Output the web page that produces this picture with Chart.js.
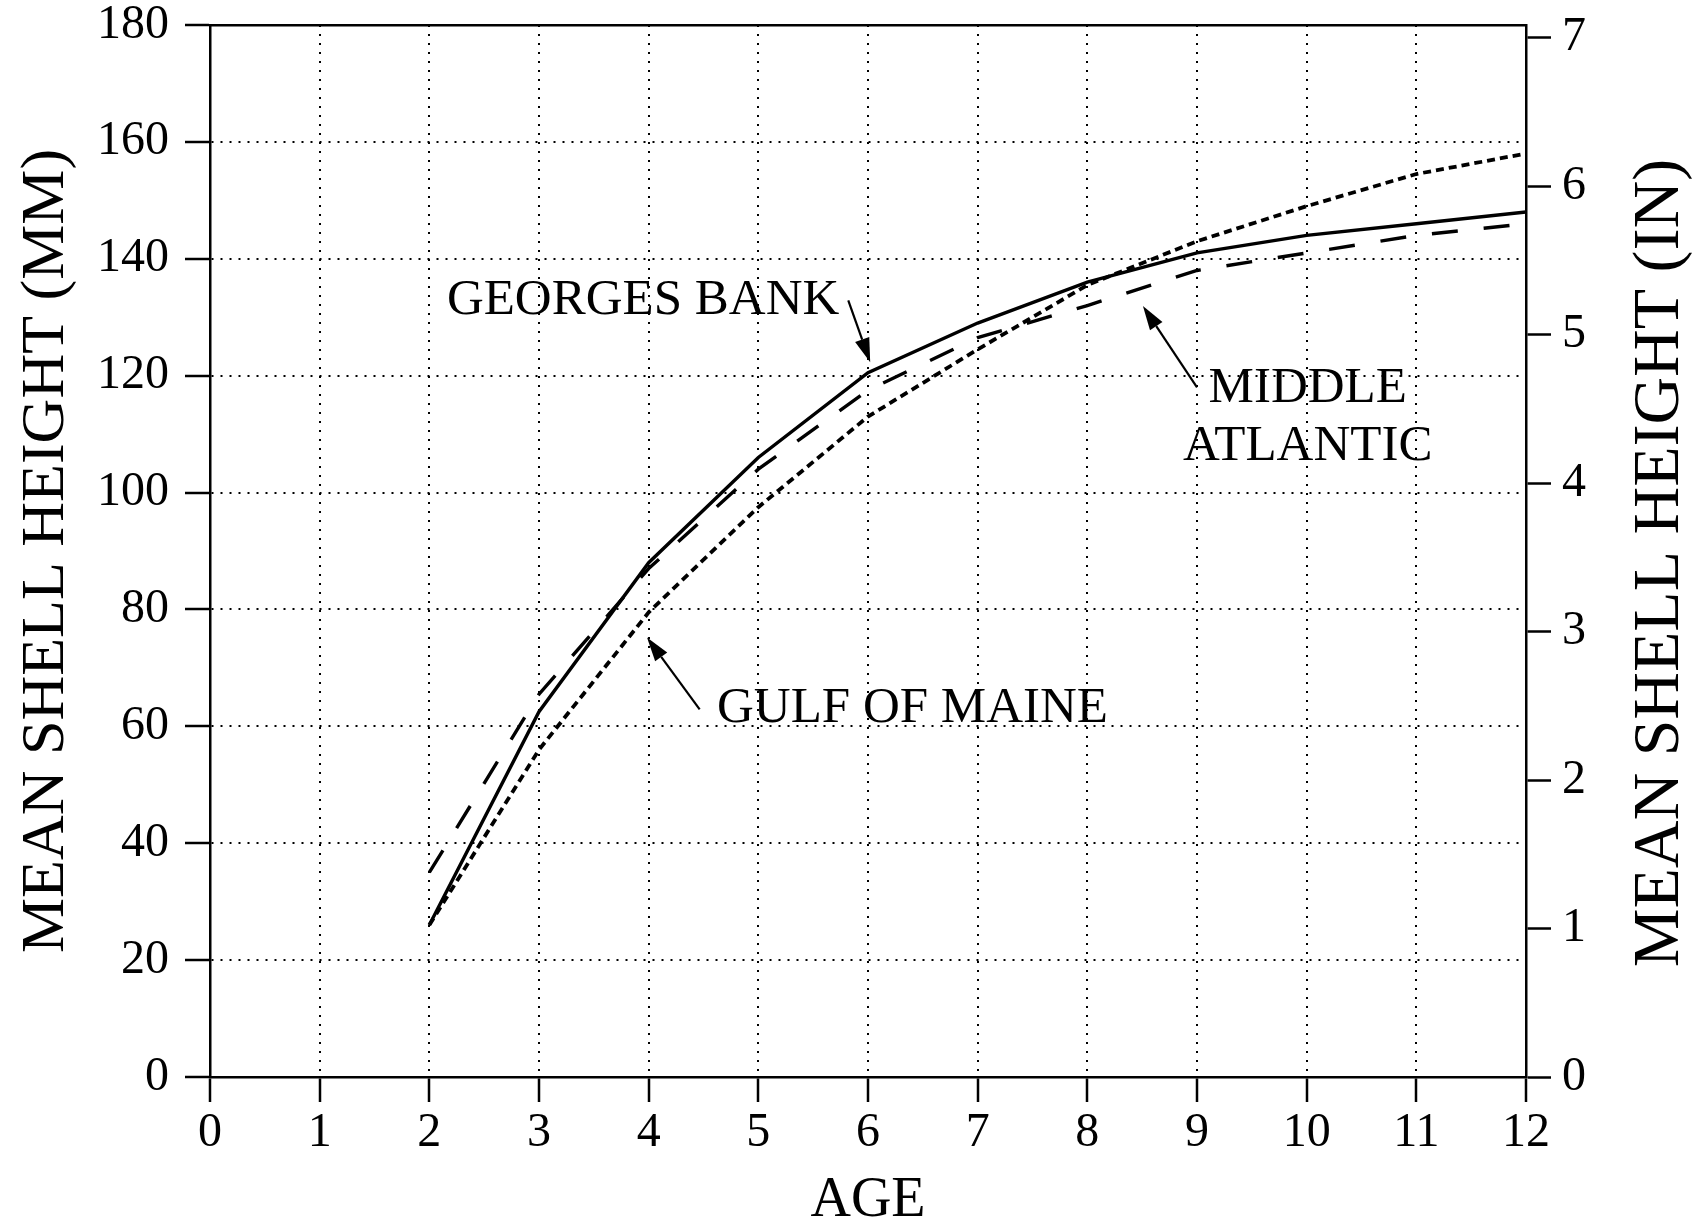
<!DOCTYPE html>
<html>
<head>
<meta charset="utf-8">
<script src="https://cdn.jsdelivr.net/npm/chart.js@4.4.1/dist/chart.umd.min.js"></script>
<style>
html,body{margin:0;padding:0;background:#ffffff;}
#wrap{width:1702px;height:1228px;position:relative;background:#ffffff;}
canvas{display:block;}
</style>
</head>
<body>
<div id="wrap"><canvas id="c" width="1702" height="1228"></canvas></div>
<script>
// ---- data ----
const ages = [2, 3, 4, 5, 6, 7, 8, 9, 10, 11, 12];
const georgesBank    = [26, 62.5, 88, 106, 120.5, 129, 136, 141, 144, 146, 148];
const middleAtlantic = [35, 65.5, 87, 104, 117.5, 126.5, 132, 138, 141, 144, 146];
const gulfOfMaine    = [26, 56, 79.5, 97.5, 113, 124.5, 135.5, 143, 149, 154.5, 158];

const ageTicks = [0, 1, 2, 3, 4, 5, 6, 7, 8, 9, 10, 11, 12];
const mmTicks = [0, 20, 40, 60, 80, 100, 120, 140, 160, 180];
const inchTicks = [0, 1, 2, 3, 4, 5, 6, 7];
const MM_PER_INCH = 25.4;

const xTitle = 'AGE';
const yLeftTitle = 'MEAN SHELL HEIGHT (MM)';
const yRightTitle = 'MEAN SHELL HEIGHT (IN)';

// annotation labels, in data units (age, mm)
const labelTexts = ['GEORGES BANK', 'MIDDLE', 'ATLANTIC', 'GULF OF MAINE'];
const labelAge   = [2.16, 10.01, 10.01, 4.623];
const labelMM    = [132.9, 117.8, 107.9, 63.0];
const labelAlign = ['left', 'center', 'center', 'left'];
// arrows: from (age, mm) to (age, mm)
const arrowFromAge = [5.82, 9.0, 4.465];
const arrowFromMM  = [132.9, 118.0, 62.9];
const arrowToAge   = [6.02, 8.507, 3.985];
const arrowToMM    = [122.3, 131.9, 75.2];

// ---- styling ----
const SERIF = "'Liberation Serif', 'Times New Roman', serif";
const INK = '#000000';

function pts(vals) { return ages.map((a, i) => ({x: a, y: vals[i]})); }

const annotationPlugin = {
  id: 'annotations',
  afterDatasetsDraw(chart) {
    const {ctx, scales: {x, y}} = chart;
    ctx.save();
    ctx.fillStyle = INK;
    ctx.strokeStyle = INK;
    ctx.font = '51px ' + SERIF;
    ctx.textBaseline = 'middle';
    labelTexts.forEach((t, i) => {
      ctx.textAlign = labelAlign[i];
      ctx.fillText(t, x.getPixelForValue(labelAge[i]), y.getPixelForValue(labelMM[i]));
    });
    ctx.lineWidth = 2.2;
    arrowFromAge.forEach((a, i) => {
      const x1 = x.getPixelForValue(a), y1 = y.getPixelForValue(arrowFromMM[i]);
      const x2 = x.getPixelForValue(arrowToAge[i]), y2 = y.getPixelForValue(arrowToMM[i]);
      const ang = Math.atan2(y2 - y1, x2 - x1);
      const hl = 24, hw = 7.5;
      const bx = x2 - hl * Math.cos(ang), by = y2 - hl * Math.sin(ang);
      ctx.beginPath();
      ctx.moveTo(x1, y1);
      ctx.lineTo(bx, by);
      ctx.stroke();
      ctx.beginPath();
      ctx.moveTo(x2, y2);
      ctx.lineTo(bx + hw * Math.sin(ang), by - hw * Math.cos(ang));
      ctx.lineTo(bx - hw * Math.sin(ang), by + hw * Math.cos(ang));
      ctx.closePath();
      ctx.fill();
    });
    // right axis title, reading bottom to top
    const r = chart.scales.y1;
    ctx.font = '66px ' + SERIF;
    ctx.textAlign = 'center';
    ctx.textBaseline = 'middle';
    ctx.translate(r.right - 41, (chart.chartArea.top + chart.chartArea.bottom) / 2 + 12);
    ctx.rotate(-Math.PI / 2);
    ctx.fillText(yRightTitle, 0, 0);
    ctx.restore();
  }
};

const dottedGrid = {
  color: INK,
  lineWidth: 2,
  tickLength: 25,
  tickWidth: 2.5,
  tickColor: INK,
  tickBorderDash: []
};
const dottedBorder = {display: true, color: INK, width: 2.5, dash: [2, 7]};
const solidBorder = {display: true, color: INK, width: 2.5};

function fixVertical(w) {
  return s => { s.width = w; s.paddingTop = 0; s.paddingBottom = 0; };
}

new Chart(document.getElementById('c'), {
  type: 'line',
  data: {
    datasets: [
      {label: 'GEORGES BANK', data: pts(georgesBank), borderColor: INK, borderWidth: 3.4, borderDash: [], pointRadius: 0, tension: 0, fill: false, yAxisID: 'y'},
      {label: 'MIDDLE ATLANTIC', data: pts(middleAtlantic), borderColor: INK, borderWidth: 3.4, borderDash: [26, 26], pointRadius: 0, tension: 0, fill: false, yAxisID: 'y'},
      {label: 'GULF OF MAINE', data: pts(gulfOfMaine), borderColor: INK, borderWidth: 3.8, borderDash: [8, 5], pointRadius: 0, tension: 0, fill: false, yAxisID: 'y'}
    ]
  },
  options: {
    responsive: false,
    devicePixelRatio: 1,
    animation: false,
    layout: {padding: {top: 25, left: 0, right: 0, bottom: 0}},
    plugins: {legend: {display: false}, tooltip: {enabled: false}},
    scales: {
      x: {
        type: 'linear', position: 'bottom',
        min: ageTicks[0], max: ageTicks[ageTicks.length - 1],
        afterBuildTicks: s => { s.ticks = ageTicks.map(v => ({value: v})); },
        ticks: {font: {family: SERIF, size: 48}, color: INK, padding: 3, maxRotation: 0, autoSkip: false},
        grid: dottedGrid,
        border: dottedBorder,
        title: {display: true, text: xTitle, color: INK, font: {family: SERIF, size: 56, lineHeight: 0.94}, padding: {top: 0, bottom: 0}},
        afterFit: s => { s.height = 151; s.paddingLeft = 0; s.paddingRight = 0; }
      },
      xTop: {
        type: 'linear', position: 'top',
        min: ageTicks[0], max: ageTicks[ageTicks.length - 1],
        ticks: {display: false},
        grid: {display: true, drawOnChartArea: false, drawTicks: false},
        border: solidBorder,
        afterFit: s => { s.height = 0; s.paddingLeft = 0; s.paddingRight = 0; }
      },
      y: {
        type: 'linear', position: 'left',
        min: mmTicks[0], max: mmTicks[mmTicks.length - 1],
        afterBuildTicks: s => { s.ticks = mmTicks.map(v => ({value: v})); },
        ticks: {font: {family: SERIF, size: 48}, color: INK, padding: 16},
        grid: dottedGrid,
        border: dottedBorder,
        title: {display: true, text: yLeftTitle, color: INK, font: {family: SERIF, size: 62}, padding: {top: 10, bottom: 0}},
        afterFit: fixVertical(210)
      },
      y1: {
        type: 'linear', position: 'right',
        min: mmTicks[0] / MM_PER_INCH, max: mmTicks[mmTicks.length - 1] / MM_PER_INCH,
        afterBuildTicks: s => { s.ticks = inchTicks.map(v => ({value: v})); },
        ticks: {font: {family: SERIF, size: 48}, color: INK, padding: 11},
        grid: {drawOnChartArea: false, drawTicks: true, tickLength: 25, tickWidth: 2.5, tickColor: INK, tickBorderDash: [], color: INK},
        border: solidBorder,
        afterFit: fixVertical(176)
      }
    }
  },
  plugins: [annotationPlugin]
});
</script>
</body>
</html>
